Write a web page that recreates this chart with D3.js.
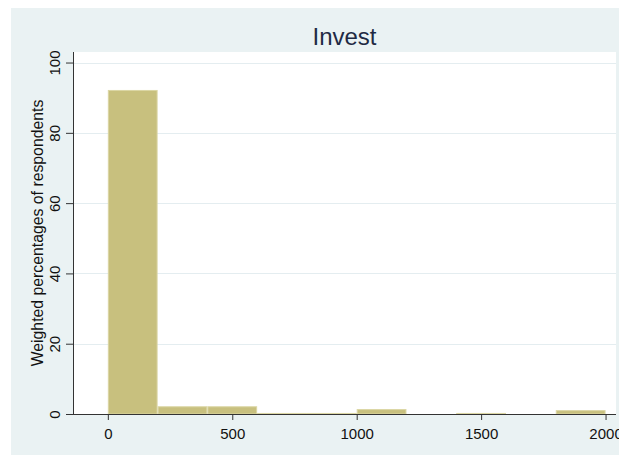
<!DOCTYPE html>
<html>
<head>
<meta charset="utf-8">
<script src="https://cdn.jsdelivr.net/npm/d3@7"></script>
<style>
  html, body { margin: 0; padding: 0; background: #ffffff; }
  svg { display: block; }
</style>
</head>
<body>
<svg id="chart" width="619" height="457"></svg>
<script>
// ---- data ----
const binStarts = [0, 200, 400, 600, 800, 1000, 1200, 1400, 1600, 1800];
const binWidth = 200;
const percentages = [92.2, 2.2, 2.2, 0.3, 0.3, 1.4, 0, 0.3, 0, 1.1];
const xTicks = [0, 500, 1000, 1500, 2000];
const yTicks = [0, 20, 40, 60, 80, 100];
const titleText = "Invest";
const yTitle = "Weighted percentages of respondents";

// ---- layout ----
const W = 619, H = 457;
const plot = { left: 73, right: 616, top: 52, bottom: 414 };

const svg = d3.select("#chart");

// outer graph region
svg.append("rect")
  .attr("x", 11).attr("y", 8).attr("width", W - 11).attr("height", H - 10)
  .attr("fill", "#eaf2f3");

// plot region
svg.append("rect")
  .attr("x", plot.left).attr("y", plot.top)
  .attr("width", plot.right - plot.left).attr("height", plot.bottom - plot.top)
  .attr("fill", "#ffffff");

const x = d3.scaleLinear().domain([-140, 2042]).range([plot.left, plot.right]);
const y = d3.scaleLinear().domain([0, 103]).range([plot.bottom, plot.top]);

// gridlines
svg.append("g").selectAll("line")
  .data(yTicks.filter(d => d > 0))
  .join("line")
  .attr("x1", plot.left).attr("x2", plot.right)
  .attr("y1", d => Math.round(y(d)) + 0.5).attr("y2", d => Math.round(y(d)) + 0.5)
  .attr("stroke", "#e4edf0").attr("stroke-width", 1);

// bars
const bins = binStarts.map((s, i) => ({ x0: s, x1: s + binWidth, v: percentages[i] }));
svg.append("g").selectAll("rect")
  .data(bins.filter(d => d.v > 0))
  .join("rect")
  .attr("x", d => x(d.x0) + 0.5)
  .attr("width", d => x(d.x1) - x(d.x0) - 1)
  .attr("y", d => y(d.v) + 0.5)
  .attr("height", d => Math.max(0, y(0) - y(d.v) - 0.5))
  .attr("fill", "#c8c07e")
  .attr("stroke", "#dbd6a4")
  .attr("stroke-width", 1);

// axes
const xAxis = d3.axisBottom(x).tickValues(xTicks).tickSize(6).tickPadding(8).tickFormat(d3.format("d"));
const gx = svg.append("g").attr("transform", `translate(0,${plot.bottom})`).call(xAxis);
gx.select(".domain").attr("d", `M${plot.left},0.5H${plot.right}`).attr("stroke", "#333333");
gx.selectAll(".tick line").attr("stroke", "#333333");
gx.selectAll(".tick text")
  .attr("font-family", "'Liberation Sans', Arial, sans-serif")
  .attr("font-size", 15)
  .attr("fill", "#111111");

const yAxis = d3.axisLeft(y).tickValues(yTicks).tickSize(7).tickPadding(0).tickFormat(d3.format("d"));
const gy = svg.append("g").attr("transform", `translate(${plot.left},0)`).call(yAxis);
gy.select(".domain").attr("d", `M0.5,${plot.top}V${plot.bottom}`).attr("stroke", "#333333");
gy.selectAll(".tick line").attr("stroke", "#333333");
gy.selectAll(".tick text")
  .attr("font-family", "'Liberation Sans', Arial, sans-serif")
  .attr("font-size", 15)
  .attr("fill", "#111111")
  .attr("text-anchor", "middle")
  .attr("dy", null)
  .attr("x", null)
  .attr("transform", "translate(-13,0) rotate(-90)");

// title
svg.append("text")
  .attr("x", (plot.left + plot.right) / 2)
  .attr("y", 45)
  .attr("text-anchor", "middle")
  .attr("font-family", "'Liberation Sans Narrow', 'Arial Narrow', 'Liberation Sans', sans-serif")
  .attr("font-size", 24)
  .attr("fill", "#1f2a44")
  .text(titleText);

// y title
svg.append("text")
  .attr("transform", `translate(43,${(98 + 368) / 2}) rotate(-90)`)
  .attr("text-anchor", "middle")
  .attr("font-family", "'Liberation Sans', Arial, sans-serif")
  .attr("font-size", 15.8)
  .attr("fill", "#111111")
  .text(yTitle);
</script>
</body>
</html>
